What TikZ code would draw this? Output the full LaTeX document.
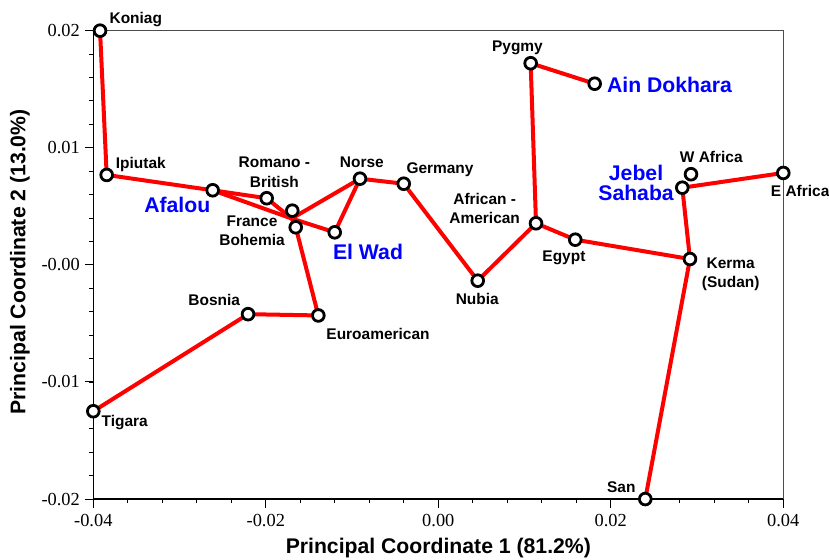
\documentclass[tikz,border=0pt]{standalone}
\usepackage{fontspec}
\setmainfont{Liberation Serif}
\setsansfont{Liberation Sans}
\usetikzlibrary{backgrounds}

\tikzset{
  pnt/.style={circle, draw, fill=white, line width=2.1pt, minimum size=8.8pt, inner sep=0pt},
  lbl/.style={font=\sffamily\bfseries\fontsize{11.6}{14.6}\selectfont, align=center, inner sep=0pt},
  site/.style={font=\sffamily\bfseries\fontsize{15.9}{15}\selectfont, text=blue, align=center, inner sep=0pt},
  link/.style={red, line width=3pt, line cap=round},
  ticklbl/.style={font=\fontsize{13.8}{14}\selectfont, inner sep=0pt},
  axtitle/.style={font=\sffamily\bfseries\fontsize{15.9}{18}\selectfont, inner sep=0pt},
}

\begin{document}
\begin{tikzpicture}[x=64.69pt, y=87.83pt]
  \useasboundingbox (-5.082,-2.512) rectangle (4.530,2.262);

  % axes
  \draw[gray!60!black, line width=0.8pt] (-4,2) -- (4,2) -- (4,-2);
  \draw[line width=1pt] (-4,2) -- (-4,-2) -- (4,-2);
  \foreach \x in {-3.6,-3.2,...,3.7} \draw[line width=0.8pt] (\x,-2) -- ++(0,-3.2pt);
  \foreach \y in {-1.8,-1.6,...,1.9} \draw[line width=0.8pt] (-4,\y) -- ++(-3.2pt,0);
  \foreach \x/\t in {-4/-0.04,-2/-0.02,0/0.00,2/0.02,4/0.04}
    \draw[line width=0.8pt] (\x,-2) -- ++(0,-6.5pt) node[ticklbl, below=4.2pt] (xt\x) {\t};
  \foreach \y/\t in {-2/-0.02,-1/-0.01,0/-0.00,1/0.01,2/0.02}
    \draw[line width=0.8pt] (-4,\y) -- ++(-6.5pt,0) node[ticklbl, left=3.2pt] (yt\y) {\t};
  \node[axtitle] (xtitle) at (0,-2.418) {Principal Coordinate 1 (81.2\%)};
  \node[axtitle, rotate=90] (ytitle) at (-4.850,0.025) {Principal Coordinate 2 (13.0\%)};

  % populations
  \node[pnt] (koniag) at (-3.922,2.000) {};
  \node[pnt] (ipiutak) at (-3.845,0.768) {};
  \node[pnt] (afalou) at (-2.616,0.637) {};
  \node[pnt] (romano) at (-1.990,0.569) {};
  \node[pnt] (france) at (-1.693,0.463) {};
  \node[pnt] (bohemia) at (-1.653,0.321) {};
  \coordinate (jct) at (-1.700,0.396);
  \node[pnt] (elwad) at (-1.201,0.278) {};
  \node[pnt] (norse) at (-0.908,0.736) {};
  \node[pnt] (germany) at (-0.401,0.693) {};
  \node[pnt] (nubia) at (0.457,-0.135) {};
  \node[pnt] (afram) at (1.133,0.355) {};
  \node[pnt] (egypt) at (1.588,0.215) {};
  \node[pnt] (pygmy) at (1.071,1.722) {};
  \node[pnt] (aindokhara) at (1.813,1.547) {};
  \node[pnt] (wafrica) at (2.930,0.774) {};
  \node[pnt] (jebel) at (2.829,0.659) {};
  \node[pnt] (eafrica) at (4.000,0.785) {};
  \node[pnt] (kerma) at (2.918,0.050) {};
  \node[pnt] (san) at (2.400,-2.000) {};
  \node[pnt] (bosnia) at (-2.206,-0.421) {};
  \node[pnt] (euroam) at (-1.391,-0.432) {};
  \node[pnt] (tigara) at (-4.000,-1.250) {};

  \begin{scope}[on background layer]
    \draw[link] (koniag) -- (ipiutak) -- (afalou) -- (romano) -- (jct);
    \draw[link] (afalou) -- (jct) -- (elwad) -- (norse) -- (jct);
    \draw[link] (france) -- (jct) -- (bohemia) -- (euroam) -- (bosnia) -- (tigara);
    \draw[link] (norse) -- (germany) -- (nubia) -- (afram) -- (pygmy) -- (aindokhara);
    \draw[link] (afram) -- (egypt) -- (kerma) -- (jebel) -- (eafrica);
    \draw[link] (kerma) -- (san);
  \end{scope}

  % labels
  \node[lbl] (l-koniag) at (-3.507,2.096) {Koniag};
  \node[lbl] (l-ipiutak) at (-3.449,0.860) {Ipiutak};
  \node[site] (l-afalou) at (-3.027,0.512) {Afalou};
  \node[lbl] (l-romano) at (-1.901,0.789) {Romano -\\British};
  \node[lbl] (l-norse) at (-0.886,0.874) {Norse};
  \node[lbl] (l-germany) at (0.020,0.810) {Germany};
  \node[lbl] (l-france) at (-2.160,0.291) {France\\Bohemia};
  \node[site] (l-elwad) at (-0.815,0.113) {El Wad};
  \node[lbl] (l-pygmy) at (0.918,1.857) {Pygmy};
  \node[site] (l-aindokhara) at (2.681,1.536) {Ain Dokhara};
  \node[lbl] (l-afram) at (0.538,0.483) {African -\\American};
  \node[lbl] (l-egypt) at (1.457,0.061) {Egypt};
  \node[site] (l-jebel) at (2.293,0.704) {Jebel\\Sahaba};
  \node[lbl] (l-wafrica) at (3.165,0.920) {W Africa};
  \node[lbl, anchor=west] (l-eafrica) at (3.854,0.627) {E Africa};
  \node[lbl] (l-kerma) at (3.390,-0.082) {Kerma\\(Sudan)};
  \node[lbl] (l-nubia) at (0.452,-0.294) {Nubia};
  \node[lbl] (l-san) at (2.122,-1.897) {San};
  \node[lbl] (l-bosnia) at (-2.598,-0.300) {Bosnia};
  \node[lbl] (l-euroam) at (-0.699,-0.588) {Euroamerican};
  \node[lbl] (l-tigara) at (-3.636,-1.350) {Tigara};
\end{tikzpicture}
\end{document}
